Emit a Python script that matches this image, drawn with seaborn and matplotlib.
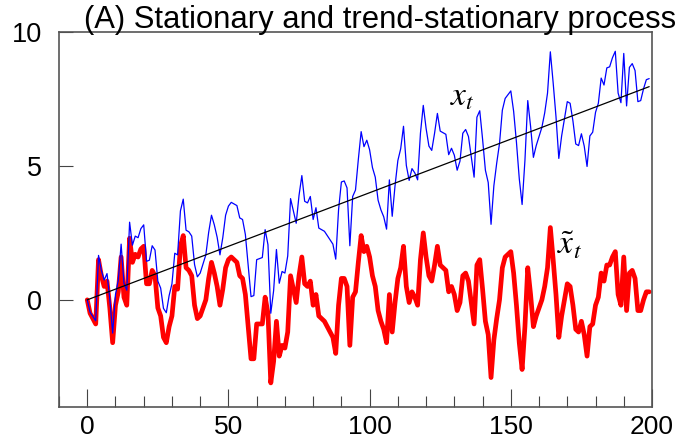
import numpy as np
import pandas as pd
import matplotlib
matplotlib.use("Agg")
import matplotlib.pyplot as plt
import seaborn as sns

# time index and the two series
t = np.arange(200)

stationary = [
    0.0, -0.5, -0.7, -0.9, 1.5, 0.9, 0.5, 0.7, -0.3, -1.6,
    -0.2, 0.3, 1.6, 0.1, -0.2, 2.3, 1.4, 1.7, 1.6, 1.9,
    2.0, 0.6, 0.6, 1.1, 0.9, -0.3, -0.6, -1.4, -1.6, -1.0,
    -0.6, 0.5, 0.4, 2.0, 2.4, 1.2, 1.1, 0.9, -0.2, -0.7,
    -0.6, -0.3, 0.0, 0.8, 1.4, 1.0, 0.5, -0.2, 0.4, 1.2,
    1.5, 1.6, 1.5, 1.4, 0.9, 0.8, 0.2, -1.0, -2.2, -2.2,
    -0.9, -0.9, -0.9, 0.1, -0.5, -3.1, -2.3, -0.8, -2.1, -1.7,
    -1.8, -1.2, 0.9, 0.4, -0.1, 0.9, 1.6, 0.6, 0.5, 0.7,
    -0.2, 0.2, -0.6, -0.7, -0.8, -1.0, -1.2, -1.4, -2.0, -0.2,
    0.8, 0.8, 0.5, -1.7, 0.1, 0.3, 1.4, 2.4, 1.8, 2.0,
    1.6, 0.9, 0.5, -0.4, -0.8, -1.1, -1.6, 0.2, -1.2, -0.1,
    0.8, 1.2, 2.0, 0.5, -0.1, 0.3, 0.1, -0.2, 1.5, 2.5,
    1.6, 0.9, 0.7, 1.3, 2.0, 1.3, 1.2, 1.1, 0.3, 0.5,
    0.2, -0.4, -0.1, 0.9, 1.0, 0.7, -0.1, -0.9, 1.3, 1.5,
    0.4, -0.8, -1.3, -2.9, -1.5, -0.7, 0.0, 1.2, 1.6, 1.7,
    1.8, 1.0, -0.2, -1.6, -2.6, -1.0, 1.2, 0.2, -1.0, -0.6,
    -0.3, 0.0, 0.5, 1.2, 2.7, 1.5, 0.2, -1.4, -0.6, 0.0,
    0.6, 0.5, -0.2, -1.1, -1.2, -0.8, -1.3, -2.1, -1.0, -0.9,
    -0.2, 0.1, 1.0, 0.7, 1.3, 1.3, 1.6, 1.8, 0.2, -0.2,
    1.6, -0.4, 1.0, 1.1, 0.8, -0.4, -0.4, 0.0, 0.3, 0.3,
]

trend_stationary = [
    0.00, -0.46, -0.62, -0.78, 1.66, 1.10, 0.74, 0.98, 0.02, -1.24,
    0.20, 0.74, 2.08, 0.62, 0.36, 2.90, 2.04, 2.38, 2.32, 2.66,
    2.80, 1.44, 1.48, 2.02, 1.86, 0.70, 0.44, -0.32, -0.48, 0.16,
    0.60, 1.74, 1.68, 3.32, 3.76, 2.60, 2.54, 2.38, 1.32, 0.86,
    1.00, 1.34, 1.68, 2.52, 3.16, 2.80, 2.34, 1.68, 2.32, 3.16,
    3.50, 3.64, 3.58, 3.52, 3.06, 3.00, 2.44, 1.28, 0.12, 0.16,
    1.50, 1.54, 1.58, 2.62, 2.06, -0.50, 0.34, 1.88, 0.62, 1.06,
    1.00, 1.64, 3.78, 3.32, 2.86, 3.90, 4.64, 3.68, 3.62, 3.86,
    3.00, 3.44, 2.68, 2.62, 2.56, 2.40, 2.24, 2.08, 1.52, 3.36,
    4.40, 4.44, 4.18, 2.02, 3.86, 4.10, 5.24, 6.28, 5.72, 5.96,
    5.60, 4.94, 4.58, 3.72, 3.36, 3.10, 2.64, 4.48, 3.12, 4.26,
    5.20, 5.64, 6.48, 5.02, 4.46, 4.90, 4.74, 4.48, 6.22, 7.26,
    6.40, 5.74, 5.58, 6.22, 6.96, 6.30, 6.24, 6.18, 5.42, 5.66,
    5.40, 4.84, 5.18, 6.22, 6.36, 6.10, 5.34, 4.58, 6.82, 7.06,
    6.00, 4.84, 4.38, 2.82, 4.26, 5.10, 5.84, 7.08, 7.52, 7.66,
    7.80, 7.04, 5.88, 4.52, 3.56, 5.20, 7.44, 6.48, 5.32, 5.76,
    6.10, 6.44, 6.98, 7.72, 9.26, 8.10, 6.84, 5.28, 6.12, 6.76,
    7.40, 7.34, 6.68, 5.82, 5.76, 6.20, 5.74, 4.98, 6.12, 6.26,
    7.00, 7.34, 8.28, 8.02, 8.66, 8.70, 9.04, 9.28, 7.72, 7.36,
    9.20, 7.24, 8.68, 8.82, 8.56, 7.40, 7.44, 7.88, 8.22, 8.26,
]

# fitted linear trend, end points
trend_t = [0, 199]
trend_y = [0.0, 7.96]

sns.set_style("white")
plt.rcParams["font.family"] = ["Liberation Sans", "DejaVu Sans"]
plt.rcParams["mathtext.fontset"] = "stix"
plt.rcParams["text.color"] = "black"
plt.rcParams["xtick.color"] = "black"
plt.rcParams["ytick.color"] = "black"

df = pd.DataFrame({"t": t, "stationary": stationary, "trend": trend_stationary})

fig = plt.figure(figsize=(6.82, 4.45), dpi=100)
ax = fig.add_axes([59 / 682, 1 - 407 / 445, (652 - 59) / 682, (407 - 32) / 445])

sns.lineplot(data=df, x="t", y="stationary", color="#ff0000", lw=3.4, ax=ax)
sns.lineplot(data=df, x="t", y="trend", color="#0000ff", lw=0.9, ax=ax)
sns.lineplot(x=trend_t, y=trend_y, color="black", lw=0.9, ax=ax)

ax.set_xlim(-10, 200)
ax.set_ylim(-4, 10)
ax.set_xlabel("")
ax.set_ylabel("")
ax.set_xticks([0, 50, 100, 150, 200])
ax.set_xticks(np.arange(-10, 201, 10), minor=True)
ax.set_yticks([0, 5, 10])
ax.tick_params(axis="x", which="both", bottom=True)
ax.tick_params(axis="y", which="both", left=True)
ax.tick_params(axis="x", which="major", direction="in", length=13, width=0.8,
               pad=6, labelsize=19, color="#444444", labelcolor="black")
ax.tick_params(axis="x", which="minor", direction="in", length=8, width=0.8,
               color="#444444")
ax.tick_params(axis="y", which="major", direction="in", length=10, width=0.8,
               pad=12, labelsize=19.5, color="#444444", labelcolor="black")
for s in ax.spines.values():
    s.set_color("#555555")
    s.set_linewidth(1.2)

ax.text(128.5, 7.25, r"$x_t$", fontsize=24, color="black")
ax.text(166.5, 1.7, r"$\tilde{x}_t$", fontsize=24, color="black")

fig.text(380 / 682, 1 - 28 / 445, "(A) Stationary and trend-stationary process",
         ha="center", va="baseline", fontsize=22.3, color="black")

fig.savefig("out.png", dpi=100)
